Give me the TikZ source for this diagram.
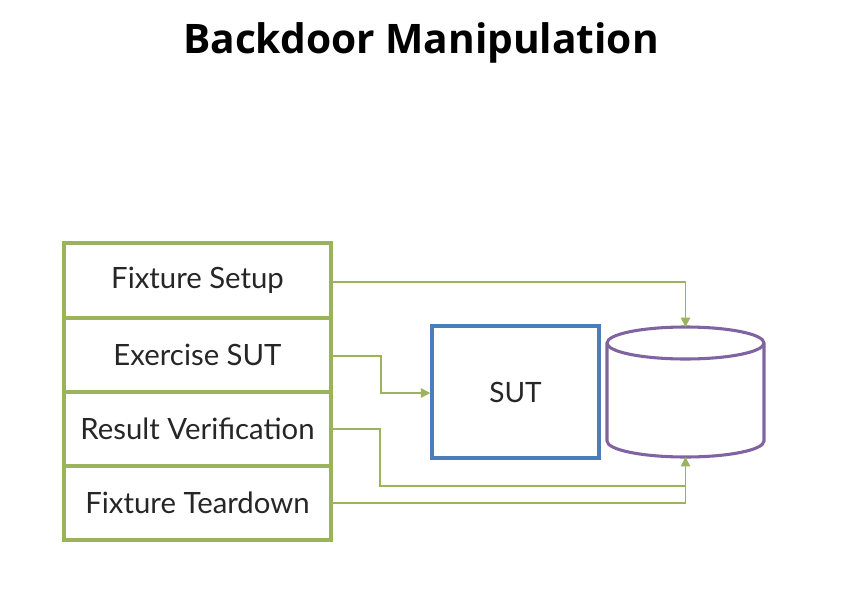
\documentclass[tikz,border=0pt]{standalone}
\usepackage{fontspec}
\setmainfont{Open Sans}
\newfontfamily\bodyfont{Lato}
\usetikzlibrary{arrows.meta,shapes.geometric}
\definecolor{grn}{HTML}{9BB35A}
\definecolor{sutblue}{HTML}{4A7EBB}
\definecolor{dbpurple}{HTML}{8064A2}
\tikzset{
  phase/.style={draw=grn, line width=2.4pt, minimum width=267*0.75pt, inner sep=0pt, font=\bodyfont\fontsize{22}{22}\selectfont, text=black!85},
  link/.style={draw=grn, line width=1.2pt, -{Triangle[length=7pt,width=7pt]}},
  plainlink/.style={draw=grn, line width=1.2pt},
  dbline/.style={draw=dbpurple, line width=2.3pt},
}
\begin{document}
\begin{tikzpicture}[x=0.75pt,y=-0.75pt]
\useasboundingbox (0,0) rectangle (842,614);
\node[font=\bfseries\fontsize{30.5}{30.5}\selectfont] (title) at (421,43) {Backdoor Manipulation};
% phases
\node[phase, minimum height=75*0.75pt] (setup) at (197.5,280.5) {Fixture Setup};
\node[phase, minimum height=74*0.75pt] (exer) at (197.5,355) {Exercise SUT};
\node[phase, minimum height=74*0.75pt] (verif) at (197.5,429) {Result Verification};
\node[phase, minimum height=74*0.75pt] (tear) at (197.5,503) {Fixture Teardown};
% SUT
\node[draw=sutblue, line width=2.6pt, minimum width=167*0.75pt, minimum height=132*0.75pt, font=\bodyfont\fontsize{21}{21}\selectfont, text=black!85] (sut) at (515.5,392) {SUT};
% database cylinder
\draw[dbline, fill=white]
  (607,343) -- (607,441) arc[start angle=180, end angle=0, x radius=78.5, y radius=16]
  -- (764,343) arc[start angle=0, end angle=-180, x radius=78.5, y radius=16] -- cycle;
\draw[dbline] (607,343) arc[start angle=180, end angle=0, x radius=78.5, y radius=16];
\coordinate (dbtop) at (685.5,327);
\coordinate (dbbot) at (685.5,457);
\coordinate (join) at (685.5,486);
% connectors
\draw[link] (setup.east |- 0,282) -| (dbtop);
\draw[link] (exer.east |- 0,356) -- (381,356) |- (sut.west |- 0,393);
\draw[link] (verif.east |- 0,429) -- (380,429) |- (join) -- (dbbot);
\draw[plainlink] (tear.east |- 0,503) -| (join);
\end{tikzpicture}
\end{document}
